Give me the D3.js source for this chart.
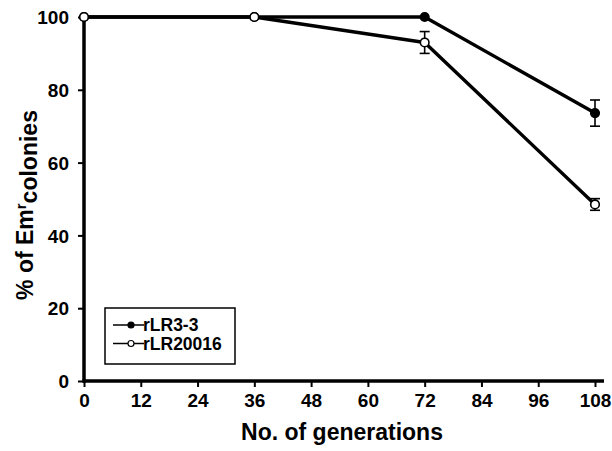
<!DOCTYPE html>
<html>
<head>
<meta charset="utf-8">
<script src="https://cdn.jsdelivr.net/npm/d3@7"></script>
<style>
  body { margin: 0; background: #fff; }
  svg text { font-family: "Liberation Sans", Arial, sans-serif; font-weight: bold; fill: #000; }
</style>
</head>
<body>
<svg id="chart" width="612" height="451"></svg>
<script>
// data
const generations = [0, 36, 72, 108];
const rLR33 = [100, 100, 100, 73.6];
const rLR33Err = [0, 0, 0, 3.6];
const rLR20016 = [100, 100, 93.0, 48.5];
const rLR20016Err = [0, 0, 3.0, 1.6];
const xTicks = [0, 12, 24, 36, 48, 60, 72, 84, 96, 108];
const yTicks = [0, 20, 40, 60, 80, 100];

const series = [
  { name: "rLR3-3", values: rLR33, err: rLR33Err, fill: "#000" },
  { name: "rLR20016", values: rLR20016, err: rLR20016Err, fill: "#fff" }
];

const svg = d3.select("#chart");
const x = d3.scaleLinear().domain([0, 108]).range([84, 595]);
const y = d3.scaleLinear().domain([0, 100]).range([381, 17]);

// axes
const yAxis = svg.append("g")
  .attr("transform", "translate(84,0)")
  .call(d3.axisLeft(y).tickValues(yTicks).tickSize(6).tickPadding(9));
yAxis.select(".domain").remove();
yAxis.selectAll(".tick line").attr("stroke-width", 2);
yAxis.selectAll("text").style("font-size", "19px").attr("dy", "0.35em");

const xAxis = svg.append("g")
  .attr("transform", "translate(0,381)")
  .call(d3.axisBottom(x).tickValues(xTicks).tickSize(6).tickPadding(7));
xAxis.select(".domain").remove();
xAxis.selectAll(".tick line").attr("stroke-width", 2);
xAxis.selectAll("text").style("font-size", "19px");

svg.append("line")
  .attr("x1", 84).attr("x2", 84).attr("y1", y(100)).attr("y2", y(0) + 1.5)
  .attr("stroke", "#000").attr("stroke-width", 3.5);
svg.append("line")
  .attr("x1", 82.5).attr("x2", 604).attr("y1", y(0)).attr("y2", y(0))
  .attr("stroke", "#000").attr("stroke-width", 3.5);

// axis titles
svg.append("text")
  .attr("x", 342).attr("y", 440)
  .attr("text-anchor", "middle")
  .style("font-size", "23px")
  .text("No. of generations");

const yTitle = svg.append("text")
  .attr("transform", "translate(33,205) rotate(-90)")
  .attr("text-anchor", "middle")
  .style("font-size", "23px");
yTitle.append("tspan").text("% of Em");
yTitle.append("tspan").attr("dy", "-0.45em").style("font-size", "15px").text("r");
yTitle.append("tspan").attr("dy", "0.45em").text("colonies");

// lines
const line = d3.line().x((d, i) => x(generations[i])).y(d => y(d));
series.forEach(s => {
  svg.append("path")
    .datum(s.values)
    .attr("d", line)
    .attr("fill", "none")
    .attr("stroke", "#000")
    .attr("stroke-width", 3.4)
    .attr("stroke-linejoin", "round");
});

// error bars
series.forEach(s => {
  const g = svg.append("g").attr("stroke", "#000").attr("stroke-width", 1.6);
  s.values.forEach((v, i) => {
    if (!s.err[i]) return;
    const cx = x(generations[i]);
    const top = y(v + s.err[i]), bot = y(v - s.err[i]);
    g.append("line").attr("x1", cx).attr("x2", cx).attr("y1", top).attr("y2", bot);
    g.append("line").attr("x1", cx - 5).attr("x2", cx + 5).attr("y1", top).attr("y2", top);
    g.append("line").attr("x1", cx - 5).attr("x2", cx + 5).attr("y1", bot).attr("y2", bot);
  });
});

// markers
series.forEach(s => {
  svg.append("g").selectAll("circle")
    .data(s.values)
    .join("circle")
    .attr("cx", (d, i) => x(generations[i]))
    .attr("cy", d => y(d))
    .attr("r", 4.3)
    .attr("fill", s.fill)
    .attr("stroke", "#000")
    .attr("stroke-width", 1.6);
});

// legend
const legend = svg.append("g");
legend.append("rect")
  .attr("x", 105).attr("y", 308).attr("width", 130).attr("height", 56)
  .attr("fill", "#fff").attr("stroke", "#000").attr("stroke-width", 1.5);
series.forEach((s, i) => {
  const ly = 325 + i * 18.5;
  legend.append("line")
    .attr("x1", 113).attr("x2", 144).attr("y1", ly).attr("y2", ly)
    .attr("stroke", "#000").attr("stroke-width", 1.5);
  legend.append("circle")
    .attr("cx", 131).attr("cy", ly).attr("r", 3)
    .attr("fill", s.fill).attr("stroke", "#000").attr("stroke-width", 1.2);
  legend.append("text")
    .attr("x", 143).attr("y", ly + 6)
    .style("font-size", "17.5px")
    .text(s.name);
});
</script>
</body>
</html>
